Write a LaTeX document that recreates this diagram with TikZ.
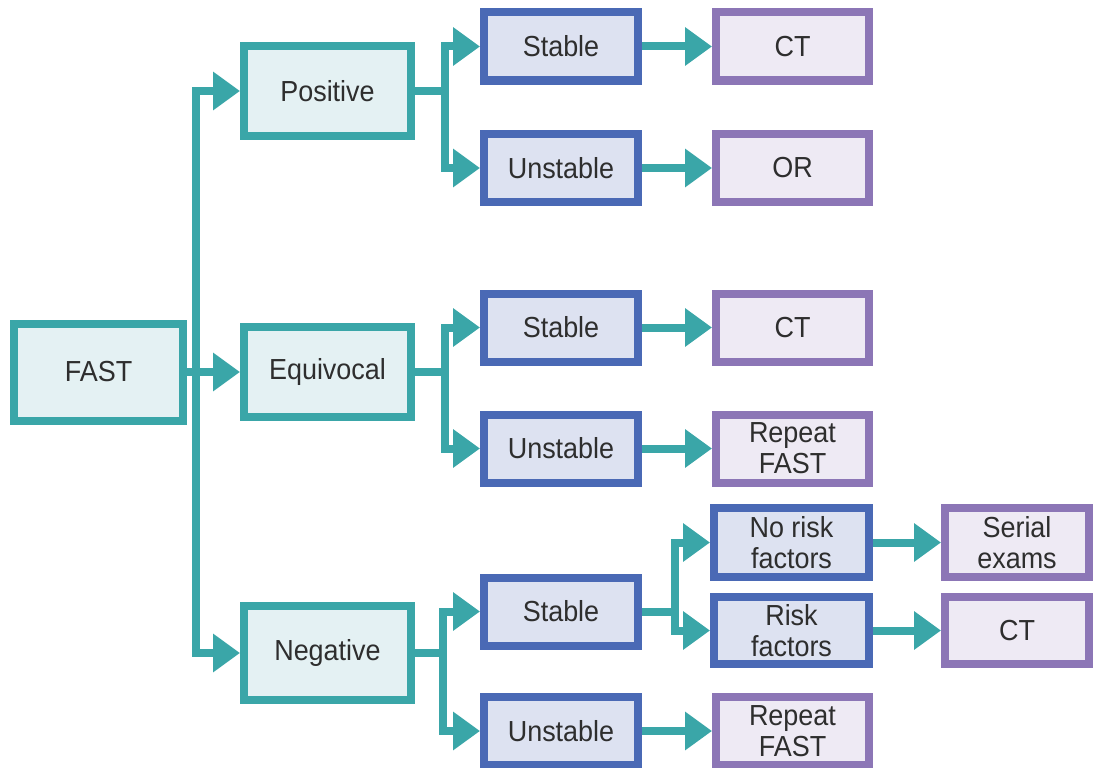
\documentclass[tikz,border=0pt]{standalone}
\usepackage{fontspec}
\setmainfont[FakeStretch=0.93]{Liberation Sans}
\usetikzlibrary{arrows.meta}
\definecolor{teal1}{HTML}{3AA6A8}
\definecolor{tealfill}{HTML}{E4F1F3}
\definecolor{blue1}{HTML}{4A69B5}
\definecolor{bluefill}{HTML}{DDE2F1}
\definecolor{purp1}{HTML}{8C76B6}
\definecolor{purpfill}{HTML}{EEEAF4}
\definecolor{txt}{HTML}{2E2E2E}
\tikzset{
  box/.style={line width=8pt, inner sep=0pt, align=center, text=txt,
    font=\fontsize{29}{31}\selectfont},
  tbox/.style={box, draw=teal1, fill=tealfill},
  bbox/.style={box, draw=blue1, fill=bluefill, minimum width=154pt, minimum height=68pt},
  pbox/.style={box, draw=purp1, fill=purpfill, minimum width=153pt, minimum height=68pt},
  conn/.style={draw=teal1, line width=8pt},
  arr/.style={conn, -{Triangle[length=27pt,width=37pt]}},
}
\begin{document}
\begin{tikzpicture}[x=1pt,y=-1pt]
\useasboundingbox (0,0) rectangle (1095,768);
% level 0/1
\node[tbox, minimum width=169pt, minimum height=97pt] (fast) at (98.5,372) {FAST};
\node[tbox, minimum width=167pt, minimum height=90pt] (pos) at (327.5,91) {Positive};
\node[tbox, minimum width=167pt, minimum height=90pt] (equ) at (327.5,372) {Equivocal};
\node[tbox, minimum width=167pt, minimum height=94pt] (neg) at (327.5,653) {Negative};
% level 2
\node[bbox] (s1) at (561,46.5) {Stable};
\node[bbox] (u1) at (561,168) {Unstable};
\node[bbox] (s2) at (561,327.5) {Stable};
\node[bbox] (u2) at (561,448.5) {Unstable};
\node[bbox] (s3) at (561,611.5) {Stable};
\node[bbox] (u3) at (561,731) {Unstable};
% level 3
\node[pbox] (c1) at (792.5,46.5) {CT};
\node[pbox] (o1) at (792.5,168) {OR};
\node[pbox] (c2) at (792.5,327.5) {CT};
\node[pbox] (r2) at (792.5,448.5) {Repeat\\FAST};
\node[bbox, minimum width=155pt, minimum height=69pt] (nr) at (791.5,542.5) {No risk\\factors};
\node[bbox, minimum width=155pt, minimum height=67pt] (rf) at (791.5,630.5) {Risk\\factors};
\node[pbox] (r3) at (792.5,731) {Repeat\\FAST};
% level 4
\node[pbox, minimum width=144pt, minimum height=69pt] (se) at (1017,542.5) {Serial\\exams};
\node[pbox, minimum width=144pt, minimum height=67pt] (c3) at (1017,630.5) {CT};
% connectors
\draw[conn] (fast.east) -- ++(9,0) coordinate (t);
\draw[arr] (t) |- (pos.west);
\draw[arr] (t) -- (equ.west);
\draw[arr] (t) |- (neg.west);
\draw[conn] (pos.east) -- ++(30,0) coordinate (j1);
\draw[arr] (j1) |- (s1.west);
\draw[arr] (j1) |- (u1.west);
\draw[conn] (equ.east) -- ++(30,0) coordinate (j2);
\draw[arr] (j2) |- (s2.west);
\draw[arr] (j2) |- (u2.west);
\draw[conn] (neg.east) -- ++(28,0) coordinate (j3);
\draw[arr] (j3) |- (s3.west);
\draw[arr] (j3) |- (u3.west);
\draw[conn] (s3.east) -- ++(33,0) coordinate (j4);
\draw[arr] (j4) |- (nr.west);
\draw[arr] (j4) |- (rf.west);
\draw[arr] (s1) -- (c1);
\draw[arr] (u1) -- (o1);
\draw[arr] (s2) -- (c2);
\draw[arr] (u2) -- (r2);
\draw[arr] (u3) -- (r3);
\draw[arr] (nr) -- (se);
\draw[arr] (rf) -- (c3);
\end{tikzpicture}
\end{document}
